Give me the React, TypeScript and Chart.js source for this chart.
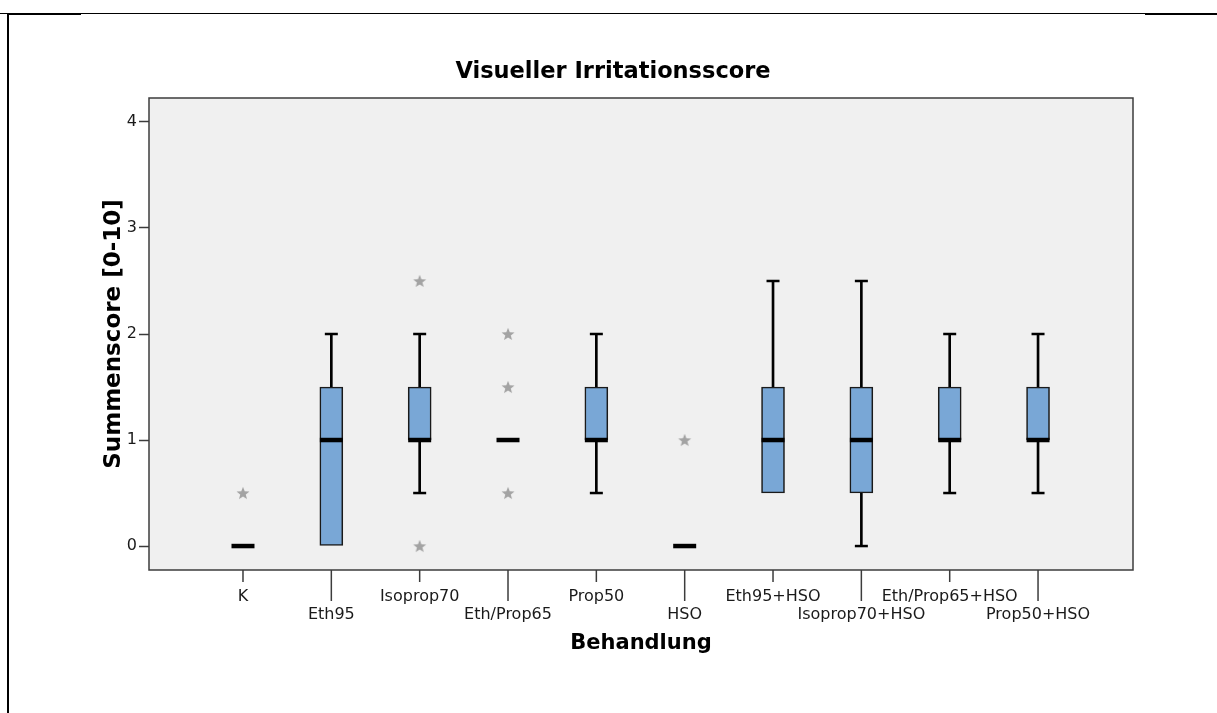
import React, { useEffect, useRef } from "react";
import { Chart, registerables } from "chart.js";

Chart.register(...registerables);

// Treatment groups along the x axis
const categories = [
  "K",
  "Eth95",
  "Isoprop70",
  "Eth/Prop65",
  "Prop50",
  "HSO",
  "Eth95+HSO",
  "Isoprop70+HSO",
  "Eth/Prop65+HSO",
  "Prop50+HSO",
];

// Five-number summaries per group
const whiskerLow = [0, 0, 0.5, 1, 0.5, 0, 0.5, 0, 0.5, 0.5];
const quartile1 = [0, 0, 1, 1, 1, 0, 0.5, 0.5, 1, 1];
const medians = [0, 1, 1, 1, 1, 0, 1, 1, 1, 1];
const quartile3 = [0, 1.5, 1.5, 1, 1.5, 0, 1.5, 1.5, 1.5, 1.5];
const whiskerHigh = [0, 2, 2, 1, 2, 0, 2.5, 2.5, 2, 2];

// Extreme values (drawn as stars)
const extremes = [[0.5], [], [2.5, 0], [2, 1.5, 0.5], [], [1], [], [], [], []];

const yTicks = [0, 1, 2, 3, 4];

const chartTitle = "Visueller Irritationsscore";
const yAxisTitle = "Summenscore [0-10]";
const xAxisTitle = "Behandlung";

const FONT = "'DejaVu Sans', sans-serif";

function makeStar(): HTMLCanvasElement {
  const c = document.createElement("canvas");
  c.width = 16;
  c.height = 16;
  const g = c.getContext("2d")!;
  g.fillStyle = "#A3A3A3";
  g.beginPath();
  for (let k = 0; k < 10; k++) {
    const r = k % 2 === 0 ? 6.8 : 2.9;
    const ang = -Math.PI / 2 + (k * Math.PI) / 5;
    const px = 8 + r * Math.cos(ang);
    const py = 8.6 + r * Math.sin(ang);
    if (k === 0) g.moveTo(px, py);
    else g.lineTo(px, py);
  }
  g.closePath();
  g.fill();
  return c;
}

const plotDecor = {
  id: "plotDecor",
  beforeDraw(chart: any) {
    const { ctx, chartArea: a } = chart;
    ctx.save();
    ctx.fillStyle = "#F0F0F0";
    ctx.fillRect(a.left, a.top, a.right - a.left, a.bottom - a.top);
    ctx.restore();
  },
  afterDatasetsDraw(chart: any) {
    const { ctx, chartArea: a } = chart;
    ctx.save();
    ctx.strokeStyle = "#3C3C3C";
    ctx.lineWidth = 1.5;
    ctx.strokeRect(a.left, a.top, a.right - a.left, a.bottom - a.top);
    ctx.restore();
  },
  afterDraw(chart: any) {
    const { ctx, chartArea: a } = chart;
    const xs = chart.scales.x;
    ctx.save();
    // staggered tick marks on the category axis
    ctx.strokeStyle = "#3C3C3C";
    ctx.lineWidth = 1.5;
    categories.forEach((_, i) => {
      const x = xs.getPixelForValue(i);
      const len = i % 2 === 0 ? 12 : 31;
      ctx.beginPath();
      ctx.moveTo(x, a.bottom);
      ctx.lineTo(x, a.bottom + len);
      ctx.stroke();
    });

    ctx.fillStyle = "#000";
    ctx.textBaseline = "alphabetic";
    ctx.textAlign = "center";

    ctx.font = `bold 22.5px ${FONT}`;
    ctx.fillText(chartTitle, 613, 78);

    ctx.font = `bold 21px ${FONT}`;
    ctx.fillText(xAxisTitle, (a.left + a.right) / 2, 649);

    ctx.save();
    ctx.translate(120, (a.top + a.bottom) / 2);
    ctx.rotate(-Math.PI / 2);
    ctx.font = `bold 23px ${FONT}`;
    ctx.fillText(yAxisTitle, 0, 0);
    ctx.restore();

    ctx.restore();
  },
};

export default function App() {
  const ref = useRef<HTMLCanvasElement | null>(null);

  useEffect(() => {
    if (!ref.current) return;
    const star = makeStar();
    const idx = categories.map((_, i) => i);

    const boxes = idx
      .filter((i) => quartile3[i] > quartile1[i])
      .map((i) => ({ x: i, y: [quartile1[i], quartile3[i]] }));
    const whiskers = [
      ...idx
        .filter((i) => whiskerHigh[i] > quartile3[i])
        .map((i) => ({ x: i, y: [quartile3[i], whiskerHigh[i]] })),
      ...idx
        .filter((i) => whiskerLow[i] < quartile1[i])
        .map((i) => ({ x: i, y: [whiskerLow[i], quartile1[i]] })),
    ];
    const caps = [
      ...idx
        .filter((i) => whiskerHigh[i] > quartile3[i])
        .map((i) => ({ x: i, y: whiskerHigh[i] })),
      ...idx
        .filter((i) => whiskerLow[i] < quartile1[i])
        .map((i) => ({ x: i, y: whiskerLow[i] })),
    ];
    const medianPts = idx.map((i) => ({ x: i, y: medians[i] }));
    const starPts = idx.flatMap((i) => extremes[i].map((v) => ({ x: i, y: v })));

    const chart = new Chart(ref.current, {
      type: "bar",
      data: {
        datasets: [
          {
            type: "scatter",
            data: starPts,
            pointStyle: star as any,
            pointRadius: 8,
            pointHoverRadius: 8,
            order: 0,
          } as any,
          {
            type: "scatter",
            data: medianPts,
            pointStyle: "line",
            pointRadius: 11.5,
            pointHoverRadius: 11.5,
            pointBorderWidth: 4.5,
            pointHoverBorderWidth: 4.5,
            pointBorderColor: "#000",
            order: 1,
          } as any,
          {
            type: "scatter",
            data: caps,
            pointStyle: "line",
            pointRadius: 6.5,
            pointHoverRadius: 6.5,
            pointBorderWidth: 2.5,
            pointHoverBorderWidth: 2.5,
            pointBorderColor: "#000",
            order: 2,
          } as any,
          {
            type: "bar",
            data: boxes,
            backgroundColor: "#79A7D6",
            borderColor: "#1A1A1A",
            borderWidth: 1.6,
            borderSkipped: false,
            barThickness: 23,
            grouped: false,
            order: 3,
          } as any,
          {
            type: "bar",
            data: whiskers,
            backgroundColor: "#000",
            borderWidth: 0,
            barThickness: 2,
            grouped: false,
            order: 4,
          } as any,
        ],
      },
      options: {
        responsive: false,
        animation: false,
        events: [],
        layout: { padding: { top: 98, right: 84, bottom: 0, left: 0 } },
        plugins: {
          legend: { display: false },
          tooltip: { enabled: false },
          title: { display: false },
        },
        scales: {
          x: {
            type: "linear",
            min: -1.064,
            max: 10.075,
            offset: false,
            afterFit: (s: any) => {
              s.height = 143;
            },
            afterBuildTicks: (s: any) => {
              s.ticks = categories.map((_, i) => ({ value: i }));
            },
            grid: { display: false, drawTicks: false },
            border: { display: false },
            ticks: {
              autoSkip: false,
              maxRotation: 0,
              minRotation: 0,
              padding: 18,
              color: "#1A1A1A",
              font: { family: FONT, size: 16, lineHeight: 1.1 },
              callback: (v: any) => {
                const i = Math.round(Number(v));
                return i % 2 === 0 ? categories[i] : ["", categories[i]];
              },
            },
          },
          y: {
            type: "linear",
            min: -0.226,
            max: 4.226,
            afterFit: (s: any) => {
              s.width = 149;
            },
            afterBuildTicks: (s: any) => {
              s.ticks = yTicks.map((v) => ({ value: v }));
            },
            grid: {
              drawOnChartArea: false,
              drawTicks: true,
              tickLength: 10,
              tickColor: "#3C3C3C",
              tickWidth: 1.5,
            },
            border: { display: false },
            ticks: {
              padding: 2,
              color: "#1A1A1A",
              font: { family: FONT, size: 16 },
              callback: (v: any) => String(v),
            },
          },
        },
      },
      plugins: [plotDecor],
    } as any);

    return () => chart.destroy();
  }, []);

  return (
    <div
      style={{
        position: "fixed",
        left: 0,
        top: 0,
        width: 1217,
        height: 713,
        background: "#fff",
        overflow: "hidden",
      }}
    >
      <canvas
        ref={ref}
        width={1217}
        height={713}
        style={{ position: "absolute", left: 0, top: 0, width: 1217, height: 713 }}
      />
      {/* surrounding frame lines */}
      <div style={{ position: "absolute", left: 0, top: 13, width: 1217, height: 1, background: "#000" }} />
      <div style={{ position: "absolute", left: 7, top: 13, width: 74, height: 2, background: "#000" }} />
      <div style={{ position: "absolute", left: 1145, top: 13, width: 72, height: 2, background: "#000" }} />
      <div style={{ position: "absolute", left: 7, top: 13, width: 2, height: 700, background: "#000" }} />
    </div>
  );
}
